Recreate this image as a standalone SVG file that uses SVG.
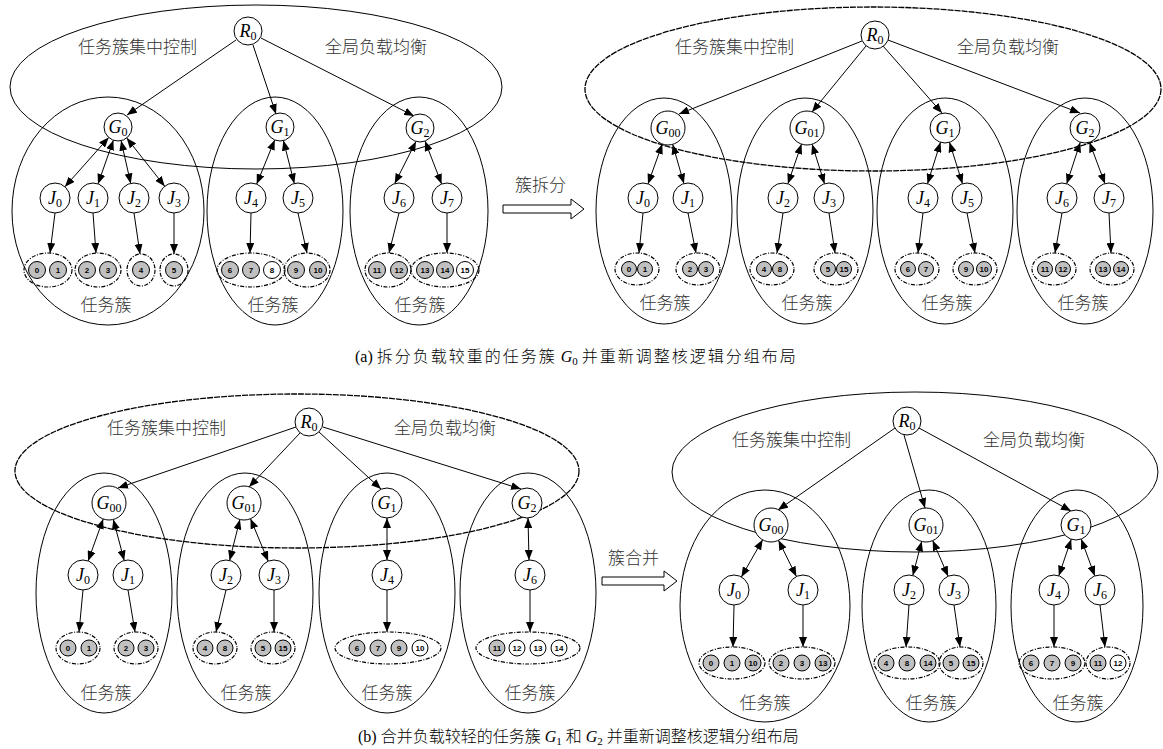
<svg xmlns="http://www.w3.org/2000/svg" width="1163" height="749" viewBox="0 0 1163 749">
<defs>
<marker id="ah" viewBox="0 0 10 8" refX="10" refY="4" markerWidth="10" markerHeight="8" markerUnits="userSpaceOnUse" orient="auto-start-reverse"><path d="M0,0 L10,4 L0,8 z" fill="#000"/></marker>
<style>
.n{fill:#fff;stroke:#000;stroke-width:1}
.c{fill:#c0c0c0;stroke:#000;stroke-width:1}
.w{fill:#fff;stroke:#000;stroke-width:1}
.g{fill:none;stroke:#000;stroke-width:1.2;stroke-dasharray:4 1.5 1 1.5}
.e{fill:none;stroke:#000;stroke-width:1}
.ed{fill:none;stroke:#000;stroke-width:1.3;stroke-dasharray:6 1}
.a{fill:none;stroke:#000;stroke-width:1;marker-end:url(#ah)}
.b{fill:none;stroke:#000;stroke-width:1;marker-start:url(#ah);marker-end:url(#ah)}
.lbl{font-family:"Noto Sans CJK SC",sans-serif;font-size:17px;font-weight:300;fill:#333}
.v{font-family:"Liberation Serif",serif;font-style:italic;font-size:18px;text-anchor:middle}
.s{font-style:normal;font-size:12px}
.num{font-family:"Liberation Sans",sans-serif;font-weight:bold;font-size:8px;text-anchor:middle}
.cap{font-family:"Liberation Serif","Noto Sans CJK SC",serif;font-size:16px;fill:#000}
.cj{font-family:"Noto Sans CJK SC",sans-serif;font-weight:300}
.ha{fill:#fff;stroke:#000;stroke-width:1}
</style>
</defs>

<!-- ===== containers (a) left ===== -->
<g id="a1-containers">
<ellipse class="e" cx="256" cy="87" rx="246" ry="82"/>
<ellipse class="e" cx="108" cy="211" rx="96" ry="114"/>
<ellipse class="e" cx="275" cy="211" rx="68" ry="114"/>
<ellipse class="e" cx="419" cy="211" rx="69" ry="114"/>
<text class="lbl" x="78" y="53">任务簇集中控制</text>
<text class="lbl" x="325" y="53">全局负载均衡</text>
<text class="lbl" x="106" y="311" text-anchor="middle">任务簇</text>
<text class="lbl" x="273" y="311" text-anchor="middle">任务簇</text>
<text class="lbl" x="420" y="311" text-anchor="middle">任务簇</text>
</g>

<!-- ===== containers (a) right ===== -->
<g id="a2-containers">
<ellipse class="ed" cx="873" cy="89" rx="288" ry="82"/>
<ellipse class="e" cx="664" cy="211" rx="68" ry="113"/>
<ellipse class="e" cx="805" cy="211" rx="68" ry="113"/>
<ellipse class="e" cx="945" cy="211" rx="68" ry="113"/>
<ellipse class="e" cx="1085" cy="211" rx="68" ry="113"/>
<text class="lbl" x="675" y="53">任务簇集中控制</text>
<text class="lbl" x="957" y="53">全局负载均衡</text>
<text class="lbl" x="665" y="309" text-anchor="middle">任务簇</text>
<text class="lbl" x="807" y="309" text-anchor="middle">任务簇</text>
<text class="lbl" x="947" y="309" text-anchor="middle">任务簇</text>
<text class="lbl" x="1083" y="309" text-anchor="middle">任务簇</text>
</g>

<!-- ===== containers (b) left ===== -->
<g id="b1-containers">
<ellipse class="ed" cx="297" cy="471" rx="282" ry="77"/>
<ellipse class="e" cx="104" cy="593" rx="68" ry="120"/>
<ellipse class="e" cx="245" cy="593" rx="68" ry="120"/>
<ellipse class="e" cx="387" cy="593" rx="68" ry="120"/>
<ellipse class="e" cx="528" cy="593" rx="68" ry="120"/>
<text class="lbl" x="107" y="434">任务簇集中控制</text>
<text class="lbl" x="394" y="434">全局负载均衡</text>
<text class="lbl" x="106" y="699" text-anchor="middle">任务簇</text>
<text class="lbl" x="246" y="699" text-anchor="middle">任务簇</text>
<text class="lbl" x="387" y="699" text-anchor="middle">任务簇</text>
<text class="lbl" x="530" y="699" text-anchor="middle">任务簇</text>
</g>

<!-- ===== containers (b) right ===== -->
<g id="b2-containers">
<ellipse class="e" cx="915" cy="472" rx="243" ry="80"/>
<ellipse class="e" cx="765" cy="606" rx="85" ry="116"/>
<ellipse class="e" cx="929" cy="606" rx="67" ry="116"/>
<ellipse class="e" cx="1077" cy="606" rx="66" ry="116"/>
<text class="lbl" x="732" y="446">任务簇集中控制</text>
<text class="lbl" x="983" y="446">全局负载均衡</text>
<text class="lbl" x="765" y="709" text-anchor="middle">任务簇</text>
<text class="lbl" x="931" y="709" text-anchor="middle">任务簇</text>
<text class="lbl" x="1078" y="709" text-anchor="middle">任务簇</text>
</g>

<!-- ===== transition arrows ===== -->
<g id="split-arrow">
<text class="lbl" x="515" y="191">簇拆分</text>
<polygon class="ha" points="503,205 571,205 571,199 584,209 571,219 571,213 503,213"/>
</g>
<g id="merge-arrow">
<text class="lbl" x="608" y="564">簇合并</text>
<polygon class="ha" points="602,577 664,577 664,571 677,581 664,591 664,585 602,585"/>
</g>

<!-- ===== connectors ===== -->
<g id="connectors">
<!-- (a) left -->
<line class="a" x1="236" y1="40" x2="127" y2="115"/>
<line class="a" x1="253" y1="45" x2="276" y2="114"/>
<line class="a" x1="261" y1="38" x2="414" y2="116"/>
<line class="b" x1="108.7" y1="137.5" x2="64.9" y2="186.8"/>
<line class="b" x1="113.4" y1="140.2" x2="98" y2="183.9"/>
<line class="b" x1="121.1" y1="140.7" x2="130.7" y2="183.4"/>
<line class="b" x1="126.7" y1="138" x2="164.7" y2="186.2"/>
<line class="b" x1="274.7" y1="140" x2="256.7" y2="184.1"/>
<line class="b" x1="283.4" y1="140.6" x2="294.3" y2="183.4"/>
<line class="b" x1="416" y1="141.4" x2="394.7" y2="183.6"/>
<line class="b" x1="425" y1="141" x2="441.6" y2="184"/>
<line class="a" x1="55" y1="213" x2="50" y2="253"/>
<line class="a" x1="93" y1="213" x2="96" y2="253"/>
<line class="a" x1="134" y1="213" x2="140" y2="254"/>
<line class="a" x1="174" y1="213" x2="174" y2="254"/>
<line class="a" x1="251" y1="213" x2="250" y2="253"/>
<line class="a" x1="298" y1="213" x2="307" y2="253"/>
<line class="a" x1="399" y1="213" x2="389" y2="253"/>
<line class="a" x1="447" y1="213" x2="447" y2="253"/>
<!-- (a) right -->
<line class="a" x1="862" y1="41" x2="679" y2="114"/>
<line class="a" x1="866" y1="46" x2="812" y2="112"/>
<line class="a" x1="883" y1="46" x2="942" y2="113"/>
<line class="a" x1="888" y1="40" x2="1080" y2="113"/>
<line class="b" x1="662.3" y1="144" x2="648" y2="183.9"/>
<line class="b" x1="672.7" y1="144.4" x2="683.9" y2="183.6"/>
<line class="b" x1="801.5" y1="144.1" x2="787.9" y2="183.8"/>
<line class="b" x1="812.1" y1="144.2" x2="824.5" y2="183.7"/>
<line class="b" x1="940.5" y1="142.3" x2="927.5" y2="183.7"/>
<line class="b" x1="949.5" y1="142.3" x2="962.5" y2="183.7"/>
<line class="b" x1="1080.3" y1="142.3" x2="1066.7" y2="183.8"/>
<line class="b" x1="1089.5" y1="142.3" x2="1105" y2="183.7"/>
<line class="a" x1="643" y1="213" x2="639" y2="253"/>
<line class="a" x1="688" y1="213" x2="696" y2="253"/>
<line class="a" x1="783" y1="213" x2="777" y2="253"/>
<line class="a" x1="829" y1="213" x2="835" y2="253"/>
<line class="a" x1="923" y1="213" x2="918" y2="253"/>
<line class="a" x1="967" y1="213" x2="975" y2="253"/>
<line class="a" x1="1062" y1="213" x2="1055" y2="253"/>
<line class="a" x1="1109" y1="213" x2="1111" y2="253"/>
<!-- (b) left -->
<line class="a" x1="296" y1="427" x2="118" y2="488"/>
<line class="a" x1="300" y1="433" x2="249" y2="487"/>
<line class="a" x1="319" y1="432" x2="381" y2="489"/>
<line class="a" x1="323" y1="427" x2="521" y2="489"/>
<line class="b" x1="103.2" y1="519" x2="88.1" y2="560.9"/>
<line class="b" x1="113.3" y1="519.4" x2="124.2" y2="560.5"/>
<line class="b" x1="239.9" y1="519.5" x2="229.6" y2="560.4"/>
<line class="b" x1="250.5" y1="518.7" x2="268.2" y2="561.2"/>
<line class="b" x1="387" y1="518" x2="387" y2="560"/>
<line class="b" x1="528" y1="518" x2="529" y2="560"/>
<line class="a" x1="83" y1="590" x2="79" y2="632"/>
<line class="a" x1="128" y1="590" x2="135" y2="632"/>
<line class="a" x1="226" y1="590" x2="216" y2="632"/>
<line class="a" x1="274" y1="590" x2="274" y2="632"/>
<line class="a" x1="387" y1="590" x2="387" y2="632"/>
<line class="a" x1="530" y1="590" x2="530" y2="632"/>
<!-- (b) right -->
<line class="a" x1="895" y1="428" x2="778" y2="510"/>
<line class="a" x1="904" y1="435" x2="925" y2="508"/>
<line class="a" x1="919" y1="428" x2="1071" y2="511"/>
<line class="b" x1="762.6" y1="539.8" x2="741.4" y2="577"/>
<line class="b" x1="778.5" y1="540.3" x2="796.4" y2="576.5"/>
<line class="b" x1="921.7" y1="541.4" x2="912.8" y2="575.5"/>
<line class="b" x1="932.7" y1="540.6" x2="948.1" y2="576.2"/>
<line class="b" x1="1071.2" y1="539.2" x2="1058.8" y2="575.8"/>
<line class="b" x1="1081.2" y1="539.1" x2="1094.8" y2="575.9"/>
<line class="a" x1="734" y1="605" x2="733" y2="647"/>
<line class="a" x1="803" y1="605" x2="803" y2="647"/>
<line class="a" x1="909" y1="605" x2="906" y2="647"/>
<line class="a" x1="954" y1="605" x2="960" y2="647"/>
<line class="a" x1="1054" y1="605" x2="1054" y2="647"/>
<line class="a" x1="1100" y1="605" x2="1105" y2="647"/>
</g>

<!-- ===== nodes (a) left ===== -->
<g id="a1-R0"><circle class="n" cx="248" cy="31" r="14"/><text class="v" x="248" y="37" font-style="normal">R<tspan class="s" dy="3">0</tspan></text></g>
<g id="a1-G0"><circle class="n" cx="118" cy="127" r="14"/><text class="v" x="118" y="133">G<tspan class="s" dy="3">0</tspan></text></g>
<g id="a1-G1"><circle class="n" cx="280" cy="127" r="14"/><text class="v" x="280" y="133">G<tspan class="s" dy="3">1</tspan></text></g>
<g id="a1-G2"><circle class="n" cx="420" cy="128" r="14"/><text class="v" x="420" y="134">G<tspan class="s" dy="3">2</tspan></text></g>
<g id="a1-J0"><circle class="n" cx="55" cy="198" r="15"/><text class="v" x="55" y="204">J<tspan class="s" dy="3">0</tspan></text></g>
<g id="a1-J1"><circle class="n" cx="93" cy="198" r="15"/><text class="v" x="93" y="204">J<tspan class="s" dy="3">1</tspan></text></g>
<g id="a1-J2"><circle class="n" cx="134" cy="198" r="15"/><text class="v" x="134" y="204">J<tspan class="s" dy="3">2</tspan></text></g>
<g id="a1-J3"><circle class="n" cx="174" cy="198" r="15"/><text class="v" x="174" y="204">J<tspan class="s" dy="3">3</tspan></text></g>
<g id="a1-J4"><circle class="n" cx="251" cy="198" r="15"/><text class="v" x="251" y="204">J<tspan class="s" dy="3">4</tspan></text></g>
<g id="a1-J5"><circle class="n" cx="298" cy="198" r="15"/><text class="v" x="298" y="204">J<tspan class="s" dy="3">5</tspan></text></g>
<g id="a1-J6"><circle class="n" cx="399" cy="198" r="15"/><text class="v" x="399" y="204">J<tspan class="s" dy="3">6</tspan></text></g>
<g id="a1-J7"><circle class="n" cx="447" cy="198" r="15"/><text class="v" x="447" y="204">J<tspan class="s" dy="3">7</tspan></text></g>

<g id="a1-grp01"><ellipse class="g" cx="48" cy="270" rx="24" ry="17"/><circle class="c" cx="37" cy="270" r="8.5"/><text class="num" x="37" y="273">0</text><circle class="c" cx="58" cy="270" r="8.5"/><text class="num" x="58" y="273">1</text></g>
<g id="a1-grp23"><ellipse class="g" cx="98" cy="270" rx="23" ry="17"/><circle class="c" cx="87" cy="270" r="8.5"/><text class="num" x="87" y="273">2</text><circle class="c" cx="108" cy="270" r="8.5"/><text class="num" x="108" y="273">3</text></g>
<g id="a1-grp4"><ellipse class="g" cx="141" cy="270" rx="14" ry="16"/><circle class="c" cx="141" cy="270" r="8.5"/><text class="num" x="141" y="273">4</text></g>
<g id="a1-grp5"><ellipse class="g" cx="174" cy="270" rx="14" ry="16"/><circle class="c" cx="174" cy="270" r="8.5"/><text class="num" x="174" y="273">5</text></g>
<g id="a1-grp678"><ellipse class="g" cx="251" cy="270" rx="34" ry="17"/><circle class="c" cx="230" cy="270" r="8.5"/><text class="num" x="230" y="273">6</text><circle class="c" cx="251" cy="270" r="8.5"/><text class="num" x="251" y="273">7</text><circle class="w" cx="272" cy="270" r="8.5"/><text class="num" x="272" y="273">8</text></g>
<g id="a1-grp910"><ellipse class="g" cx="307" cy="270" rx="23" ry="17"/><circle class="c" cx="296" cy="270" r="8.5"/><text class="num" x="296" y="273">9</text><circle class="c" cx="318" cy="270" r="8.5"/><text class="num" x="318" y="273">10</text></g>
<g id="a1-grp1112"><ellipse class="g" cx="388" cy="270" rx="23" ry="17"/><circle class="c" cx="377" cy="270" r="8.5"/><text class="num" x="377" y="273">11</text><circle class="c" cx="399" cy="270" r="8.5"/><text class="num" x="399" y="273">12</text></g>
<g id="a1-grp131415"><ellipse class="g" cx="445" cy="270" rx="34" ry="17"/><circle class="c" cx="425" cy="270" r="8.5"/><text class="num" x="425" y="273">13</text><circle class="c" cx="445" cy="270" r="8.5"/><text class="num" x="445" y="273">14</text><circle class="w" cx="465" cy="270" r="8.5"/><text class="num" x="465" y="273">15</text></g>

<!-- ===== nodes (a) right ===== -->
<g id="a2-R0"><circle class="n" cx="875" cy="35" r="14"/><text class="v" x="875" y="41">R<tspan class="s" dy="3">0</tspan></text></g>
<g id="a2-G00"><circle class="n" cx="668" cy="128" r="17"/><text class="v" x="668" y="134">G<tspan class="s" dy="3">00</tspan></text></g>
<g id="a2-G01"><circle class="n" cx="807" cy="128" r="17"/><text class="v" x="807" y="134">G<tspan class="s" dy="3">01</tspan></text></g>
<g id="a2-G1"><circle class="n" cx="945" cy="128" r="15"/><text class="v" x="945" y="134">G<tspan class="s" dy="3">1</tspan></text></g>
<g id="a2-G2"><circle class="n" cx="1085" cy="128" r="15"/><text class="v" x="1085" y="134">G<tspan class="s" dy="3">2</tspan></text></g>
<g id="a2-J0"><circle class="n" cx="643" cy="198" r="15"/><text class="v" x="643" y="204">J<tspan class="s" dy="3">0</tspan></text></g>
<g id="a2-J1"><circle class="n" cx="688" cy="198" r="15"/><text class="v" x="688" y="204">J<tspan class="s" dy="3">1</tspan></text></g>
<g id="a2-J2"><circle class="n" cx="783" cy="198" r="15"/><text class="v" x="783" y="204">J<tspan class="s" dy="3">2</tspan></text></g>
<g id="a2-J3"><circle class="n" cx="829" cy="198" r="15"/><text class="v" x="829" y="204">J<tspan class="s" dy="3">3</tspan></text></g>
<g id="a2-J4"><circle class="n" cx="923" cy="198" r="15"/><text class="v" x="923" y="204">J<tspan class="s" dy="3">4</tspan></text></g>
<g id="a2-J5"><circle class="n" cx="967" cy="198" r="15"/><text class="v" x="967" y="204">J<tspan class="s" dy="3">5</tspan></text></g>
<g id="a2-J6"><circle class="n" cx="1062" cy="198" r="15"/><text class="v" x="1062" y="204">J<tspan class="s" dy="3">6</tspan></text></g>
<g id="a2-J7"><circle class="n" cx="1109" cy="198" r="15"/><text class="v" x="1109" y="204">J<tspan class="s" dy="3">7</tspan></text></g>

<g id="a2-grp01"><ellipse class="g" cx="637" cy="269" rx="22" ry="16"/><circle class="c" cx="629" cy="269" r="7.5"/><text class="num" x="629" y="272">0</text><circle class="c" cx="645" cy="269" r="7.5"/><text class="num" x="645" y="272">1</text></g>
<g id="a2-grp23"><ellipse class="g" cx="698" cy="269" rx="22" ry="16"/><circle class="c" cx="690" cy="269" r="7.5"/><text class="num" x="690" y="272">2</text><circle class="c" cx="706" cy="269" r="7.5"/><text class="num" x="706" y="272">3</text></g>
<g id="a2-grp48"><ellipse class="g" cx="772" cy="269" rx="22" ry="16"/><circle class="c" cx="764" cy="269" r="7.5"/><text class="num" x="764" y="272">4</text><circle class="c" cx="780" cy="269" r="7.5"/><text class="num" x="780" y="272">8</text></g>
<g id="a2-grp515"><ellipse class="g" cx="836" cy="269" rx="22" ry="16"/><circle class="c" cx="828" cy="269" r="7.5"/><text class="num" x="828" y="272">5</text><circle class="c" cx="844" cy="269" r="7.5"/><text class="num" x="844" y="272">15</text></g>
<g id="a2-grp67"><ellipse class="g" cx="917" cy="269" rx="22" ry="16"/><circle class="c" cx="908" cy="269" r="7.5"/><text class="num" x="908" y="272">6</text><circle class="c" cx="926" cy="269" r="7.5"/><text class="num" x="926" y="272">7</text></g>
<g id="a2-grp910"><ellipse class="g" cx="975" cy="269" rx="22" ry="16"/><circle class="c" cx="966" cy="269" r="7.5"/><text class="num" x="966" y="272">9</text><circle class="c" cx="984" cy="269" r="7.5"/><text class="num" x="984" y="272">10</text></g>
<g id="a2-grp1112"><ellipse class="g" cx="1054" cy="269" rx="22" ry="16"/><circle class="c" cx="1045" cy="269" r="7.5"/><text class="num" x="1045" y="272">11</text><circle class="c" cx="1063" cy="269" r="7.5"/><text class="num" x="1063" y="272">12</text></g>
<g id="a2-grp1314"><ellipse class="g" cx="1112" cy="269" rx="22" ry="16"/><circle class="c" cx="1103" cy="269" r="7.5"/><text class="num" x="1103" y="272">13</text><circle class="c" cx="1121" cy="269" r="7.5"/><text class="num" x="1121" y="272">14</text></g>

<!-- ===== nodes (b) left ===== -->
<g id="b1-R0"><circle class="n" cx="309" cy="422" r="14"/><text class="v" x="309" y="428">R<tspan class="s" dy="3">0</tspan></text></g>
<g id="b1-G00"><circle class="n" cx="109" cy="503" r="17"/><text class="v" x="109" y="509">G<tspan class="s" dy="3">00</tspan></text></g>
<g id="b1-G01"><circle class="n" cx="244" cy="503" r="17"/><text class="v" x="244" y="509">G<tspan class="s" dy="3">01</tspan></text></g>
<g id="b1-G1"><circle class="n" cx="387" cy="503" r="15"/><text class="v" x="387" y="509">G<tspan class="s" dy="3">1</tspan></text></g>
<g id="b1-G2"><circle class="n" cx="527" cy="503" r="15"/><text class="v" x="527" y="509">G<tspan class="s" dy="3">2</tspan></text></g>
<g id="b1-J0"><circle class="n" cx="83" cy="575" r="15"/><text class="v" x="83" y="581">J<tspan class="s" dy="3">0</tspan></text></g>
<g id="b1-J1"><circle class="n" cx="128" cy="575" r="15"/><text class="v" x="128" y="581">J<tspan class="s" dy="3">1</tspan></text></g>
<g id="b1-J2"><circle class="n" cx="226" cy="575" r="15"/><text class="v" x="226" y="581">J<tspan class="s" dy="3">2</tspan></text></g>
<g id="b1-J3"><circle class="n" cx="274" cy="575" r="15"/><text class="v" x="274" y="581">J<tspan class="s" dy="3">3</tspan></text></g>
<g id="b1-J4"><circle class="n" cx="387" cy="575" r="15"/><text class="v" x="387" y="581">J<tspan class="s" dy="3">4</tspan></text></g>
<g id="b1-J6"><circle class="n" cx="530" cy="575" r="15"/><text class="v" x="530" y="581">J<tspan class="s" dy="3">6</tspan></text></g>

<g id="b1-grp01"><ellipse class="g" cx="78" cy="648" rx="22" ry="16"/><circle class="c" cx="68" cy="648" r="8"/><text class="num" x="68" y="651">0</text><circle class="c" cx="89" cy="648" r="8"/><text class="num" x="89" y="651">1</text></g>
<g id="b1-grp23"><ellipse class="g" cx="136" cy="648" rx="22" ry="16"/><circle class="c" cx="126" cy="648" r="8"/><text class="num" x="126" y="651">2</text><circle class="c" cx="146" cy="648" r="8"/><text class="num" x="146" y="651">3</text></g>
<g id="b1-grp48"><ellipse class="g" cx="215" cy="648" rx="22" ry="16"/><circle class="c" cx="205" cy="648" r="8"/><text class="num" x="205" y="651">4</text><circle class="c" cx="225" cy="648" r="8"/><text class="num" x="225" y="651">8</text></g>
<g id="b1-grp515"><ellipse class="g" cx="273" cy="648" rx="22" ry="16"/><circle class="c" cx="263" cy="648" r="8"/><text class="num" x="263" y="651">5</text><circle class="c" cx="283" cy="648" r="8"/><text class="num" x="283" y="651">15</text></g>
<g id="b1-grp67910"><ellipse class="g" cx="388" cy="648" rx="53" ry="16"/><circle class="c" cx="357" cy="648" r="8"/><text class="num" x="357" y="651">6</text><circle class="c" cx="378" cy="648" r="8"/><text class="num" x="378" y="651">7</text><circle class="c" cx="399" cy="648" r="8"/><text class="num" x="399" y="651">9</text><circle class="w" cx="420" cy="648" r="8"/><text class="num" x="420" y="651">10</text></g>
<g id="b1-grp11121314"><ellipse class="g" cx="528" cy="648" rx="52" ry="16"/><circle class="c" cx="497" cy="648" r="8"/><text class="num" x="497" y="651">11</text><circle class="w" cx="517" cy="648" r="8"/><text class="num" x="517" y="651">12</text><circle class="w" cx="538" cy="648" r="8"/><text class="num" x="538" y="651">13</text><circle class="w" cx="559" cy="648" r="8"/><text class="num" x="559" y="651">14</text></g>

<!-- ===== nodes (b) right ===== -->
<g id="b2-R0"><circle class="n" cx="907" cy="421" r="14"/><text class="v" x="907" y="427">R<tspan class="s" dy="3">0</tspan></text></g>
<g id="b2-G00"><circle class="n" cx="771" cy="525" r="17"/><text class="v" x="771" y="531">G<tspan class="s" dy="3">00</tspan></text></g>
<g id="b2-G01"><circle class="n" cx="926" cy="525" r="17"/><text class="v" x="926" y="531">G<tspan class="s" dy="3">01</tspan></text></g>
<g id="b2-G1"><circle class="n" cx="1076" cy="525" r="15"/><text class="v" x="1076" y="531">G<tspan class="s" dy="3">1</tspan></text></g>
<g id="b2-J0"><circle class="n" cx="734" cy="590" r="15"/><text class="v" x="734" y="596">J<tspan class="s" dy="3">0</tspan></text></g>
<g id="b2-J1"><circle class="n" cx="803" cy="590" r="15"/><text class="v" x="803" y="596">J<tspan class="s" dy="3">1</tspan></text></g>
<g id="b2-J2"><circle class="n" cx="909" cy="590" r="15"/><text class="v" x="909" y="596">J<tspan class="s" dy="3">2</tspan></text></g>
<g id="b2-J3"><circle class="n" cx="954" cy="590" r="15"/><text class="v" x="954" y="596">J<tspan class="s" dy="3">3</tspan></text></g>
<g id="b2-J4"><circle class="n" cx="1054" cy="590" r="15"/><text class="v" x="1054" y="596">J<tspan class="s" dy="3">4</tspan></text></g>
<g id="b2-J6"><circle class="n" cx="1100" cy="590" r="15"/><text class="v" x="1100" y="596">J<tspan class="s" dy="3">6</tspan></text></g>

<g id="b2-grp0110"><ellipse class="g" cx="732" cy="663" rx="33" ry="16"/><circle class="c" cx="711" cy="663" r="8"/><text class="num" x="711" y="666">0</text><circle class="c" cx="732" cy="663" r="8"/><text class="num" x="732" y="666">1</text><circle class="c" cx="753" cy="663" r="8"/><text class="num" x="753" y="666">10</text></g>
<g id="b2-grp2313"><ellipse class="g" cx="802" cy="663" rx="33" ry="16"/><circle class="c" cx="781" cy="663" r="8"/><text class="num" x="781" y="666">2</text><circle class="c" cx="802" cy="663" r="8"/><text class="num" x="802" y="666">3</text><circle class="c" cx="823" cy="663" r="8"/><text class="num" x="823" y="666">13</text></g>
<g id="b2-grp4814"><ellipse class="g" cx="907" cy="663" rx="33" ry="16"/><circle class="c" cx="886" cy="663" r="8"/><text class="num" x="886" y="666">4</text><circle class="c" cx="907" cy="663" r="8"/><text class="num" x="907" y="666">8</text><circle class="c" cx="928" cy="663" r="8"/><text class="num" x="928" y="666">14</text></g>
<g id="b2-grp515"><ellipse class="g" cx="961" cy="663" rx="22" ry="16"/><circle class="c" cx="951" cy="663" r="8"/><text class="num" x="951" y="666">5</text><circle class="c" cx="971" cy="663" r="8"/><text class="num" x="971" y="666">15</text></g>
<g id="b2-grp679"><ellipse class="g" cx="1052" cy="663" rx="33" ry="16"/><circle class="c" cx="1031" cy="663" r="8"/><text class="num" x="1031" y="666">6</text><circle class="c" cx="1052" cy="663" r="8"/><text class="num" x="1052" y="666">7</text><circle class="c" cx="1073" cy="663" r="8"/><text class="num" x="1073" y="666">9</text></g>
<g id="b2-grp1112"><ellipse class="g" cx="1108" cy="663" rx="22" ry="16"/><circle class="c" cx="1098" cy="663" r="8"/><text class="num" x="1098" y="666">11</text><circle class="w" cx="1118" cy="663" r="8"/><text class="num" x="1118" y="666">12</text></g>

<!-- ===== captions ===== -->
<text class="cap" x="355" y="362">(a)  <tspan class="cj" letter-spacing="2">拆分负载较重的任务簇</tspan> <tspan font-style="italic">G</tspan><tspan font-size="11" dy="3">0</tspan><tspan dy="-3"> </tspan><tspan class="cj" letter-spacing="2">并重新调整核逻辑分组布局</tspan></text>
<text class="cap" x="358" y="742">(b)  <tspan class="cj">合并负载较轻的任务簇</tspan> <tspan font-style="italic">G</tspan><tspan font-size="11" dy="3">1</tspan><tspan dy="-3"> </tspan><tspan class="cj">和</tspan> <tspan font-style="italic">G</tspan><tspan font-size="11" dy="3">2</tspan><tspan dy="-3"> </tspan><tspan class="cj">并重新调整核逻辑分组布局</tspan></text>
</svg>
